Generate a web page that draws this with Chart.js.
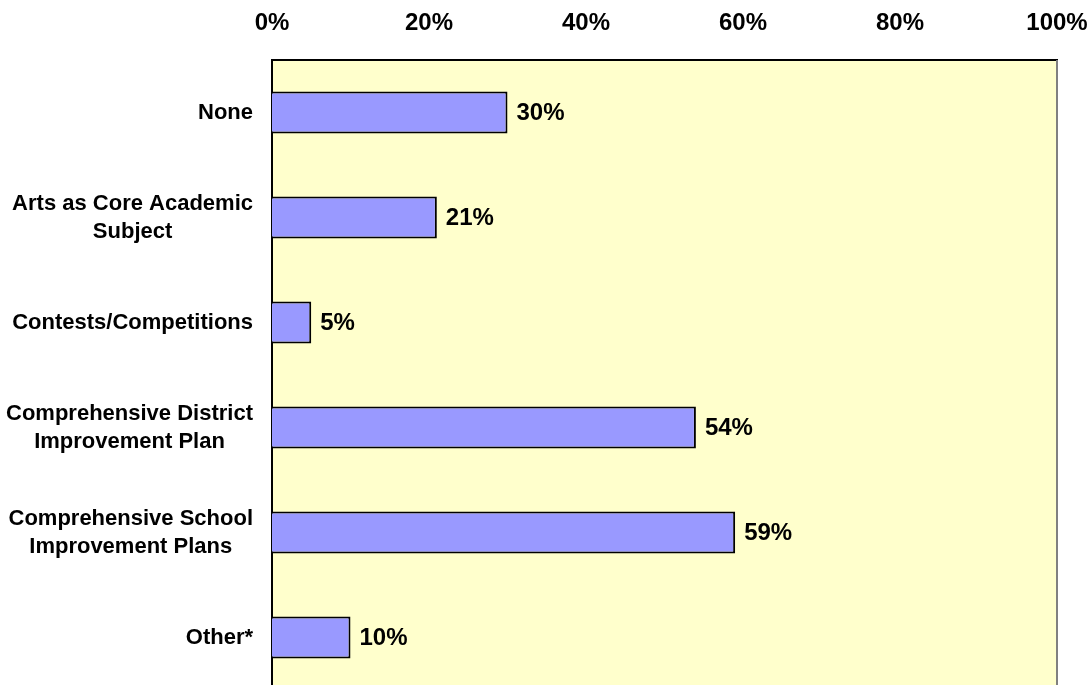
<!DOCTYPE html>
<html>
<head>
<meta charset="utf-8">
<script src="https://cdn.jsdelivr.net/npm/chart.js@4"></script>
<style>
  html, body { margin: 0; padding: 0; background: #fff; overflow: hidden; }
  canvas { display: block; }
</style>
</head>
<body>
<canvas id="chart" width="1092" height="690"></canvas>
<script>
const categories = [
	"None",
	["Arts as Core Academic", "Subject"],
	"Contests/Competitions",
	["Comprehensive District", "Improvement Plan"],
	["Comprehensive School", "Improvement Plans"],
	"Other*"
];
const values = [30, 21, 5, 54, 59, 10];
const tickValues = [0, 20, 40, 60, 80, 100];

const FONT = '"Liberation Sans", Arial, sans-serif';

// yellow plot area and grey right edge
const plotArea = {
	id: "plotArea",
	beforeDraw(chart) {
		const { ctx, chartArea: a } = chart;
		ctx.save();
		ctx.fillStyle = "#FFFFCC";
		ctx.fillRect(a.left, a.top, a.right - a.left, a.bottom - a.top);
		ctx.restore();
	},
	afterDraw(chart) {
		const { ctx, chartArea: a } = chart;
		ctx.save();
		ctx.strokeStyle = "#808080";
		ctx.lineWidth = 2;
		ctx.beginPath();
		ctx.moveTo(a.right, a.top);
		ctx.lineTo(a.right, a.bottom);
		ctx.stroke();
		ctx.restore();
	}
};

// category labels: block right-aligned to the axis, lines centred inside the block
const catLabels = {
	id: "catLabels",
	afterDraw(chart) {
		const { ctx } = chart;
		const y = chart.scales.y;
		const lineH = 28;
		ctx.save();
		ctx.fillStyle = "#000";
		ctx.font = "bold 22px " + FONT;
		ctx.textAlign = "center";
		ctx.textBaseline = "middle";
		categories.forEach((lab, i) => {
			const lines = Array.isArray(lab) ? lab : [lab];
			const w = Math.max(...lines.map(l => ctx.measureText(l).width));
			const cx = y.right - 19 - w / 2;
			const cy = y.getPixelForValue(i);
			lines.forEach((l, j) => {
				ctx.fillText(l, cx, cy + (j - (lines.length - 1) / 2) * lineH);
			});
		});
		ctx.restore();
	}
};

// value labels at the end of each bar
const barLabels = {
	id: "barLabels",
	afterDatasetsDraw(chart) {
		const { ctx } = chart;
		const meta = chart.getDatasetMeta(0);
		ctx.save();
		ctx.fillStyle = "#000";
		ctx.font = "bold 24px " + FONT;
		ctx.textAlign = "left";
		ctx.textBaseline = "middle";
		meta.data.forEach((bar, i) => {
			ctx.fillText(values[i] + "%", bar.x + 9, bar.y + 1);
		});
		ctx.restore();
	}
};

new Chart(document.getElementById("chart"), {
	type: "bar",
	data: {
		labels: categories,
		datasets: [{
			data: values,
			backgroundColor: "#9999FF",
			borderColor: "#000",
			borderWidth: 2,
			categoryPercentage: 1,
			barPercentage: 0.4
		}]
	},
	options: {
		indexAxis: "y",
		responsive: false,
		animation: false,
		devicePixelRatio: 1,
		layout: { padding: { left: 0, right: 35, top: 0, bottom: 0 } },
		plugins: {
			legend: { display: false },
			tooltip: { enabled: false }
		},
		scales: {
			x: {
				position: "top",
				min: 0,
				max: 100,
				afterBuildTicks: (scale) => { scale.ticks = tickValues.map(v => ({ value: v })); },
				afterFit: (scale) => {
					scale.height = 60;
					scale.paddingLeft = 0;
					scale.paddingRight = 0;
				},
				grid: { display: false, drawTicks: false, tickLength: 0 },
				border: { display: true, color: "#000", width: 2 },
				ticks: {
					color: "#000",
					padding: 22,
					maxRotation: 0,
					font: { family: FONT, size: 24, weight: "bold" },
					callback: (v) => v + "%"
				}
			},
			y: {
				afterFit: (scale) => {
					scale.width = 272;
					scale.paddingTop = 0;
					scale.paddingBottom = 0;
				},
				grid: { display: false, drawTicks: false, tickLength: 0 },
				border: { display: true, color: "#000", width: 2 },
				ticks: { display: false }
			}
		}
	},
	plugins: [plotArea, catLabels, barLabels]
});
</script>
</body>
</html>
